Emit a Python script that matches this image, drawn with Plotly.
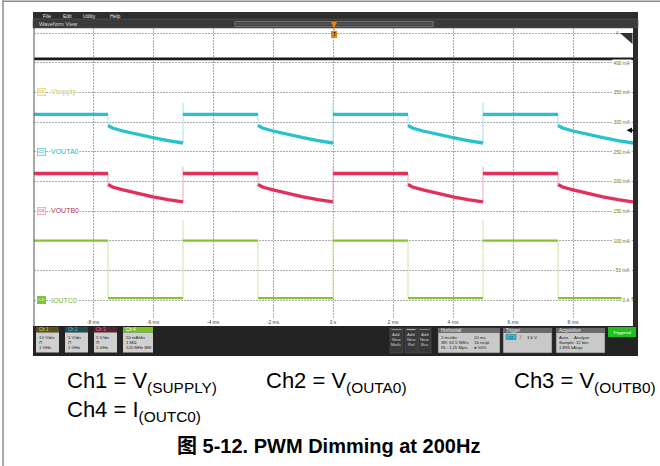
import plotly.graph_objects as go

W, H = 660, 466

# ---------------- data ----------------
time_ticks_ms = [-8, -6, -4, -2, 0, 2, 4, 6, 8]
time_tick_labels = ["-8 ms", "-6 ms", "-4 ms", "-2 ms", "0 s", "2 ms", "4 ms", "6 ms", "8 ms"]
ch4_ticks_ma = [0, 50, 100, 150, 200, 250, 300, 350, 400]
ch4_tick_labels = ["0 A", "50 mA", "100 mA", "150 mA", "200 mA", "250 mA", "300 mA", "350 mA", "400 mA"]

pwm_edges_ms = [-10, -7.5, -5, -2.5, 0, 2.5, 5, 7.5, 10]
pwm_states = [1, 0, 1, 0, 1, 0, 1, 0]          # 1 = PWM on

decay_t_ms = [0, 0.15, 0.5, 1.0, 1.5, 2.0, 2.5]  # time after the falling edge
ch1_level_v = 11.3
ch2_on_v = 6.3
ch2_off_v = [4.41, 3.98, 3.48, 2.89, 2.35, 1.88, 1.46]
ch2_spike_v = 8.25
ch3_on_v = 6.32
ch3_off_v = [4.47, 4.04, 3.55, 2.95, 2.40, 1.93, 1.52]
ch3_spike_v = 7.47
ch4_on_ma = 100
ch4_off_ma = [3, 3, 3, 3, 3, 3, 3]
ch4_spike_ma = 135
trigger_level_v = 3.6

# channel settings (scale per division, ground reference division)
ch1_scale, ch1_ground_div = 10, 7
ch2_scale, ch2_ground_div = 5, 5
ch3_scale, ch3_ground_div = 5, 3
ch4_scale, ch4_ground_div = 50, 0

# ---------------- geometry helpers ----------------
def px(x):
    return x / W

def py(y):
    return 1 - y / H

GRID_TOP, GRID_ZERO = 33.0, 300.0
DIV = (GRID_ZERO - GRID_TOP) / 9
PLOT_TOP, PLOT_BOT = 28.0, 318.0
X_LEFT, X_RIGHT, X0, XPX = 34.0, 633.0, 333.0, 30.0


def yrange(scale, gdiv):
    gpx = GRID_ZERO - gdiv * DIV
    return [(gpx - PLOT_BOT) / DIV * scale, (gpx - PLOT_TOP) / DIV * scale]


def build(on, off, spike):
    xs, ys, ex, ey = [], [], [], []
    for i, st in enumerate(pwm_states):
        t0, t1 = pwm_edges_ms[i], pwm_edges_ms[i + 1]
        if st:
            xs += [t0, t1, None]
            ys += [on, on, None]
        else:
            xs += [t0 + d for d in decay_t_ms] + [None]
            ys += list(off) + [None]
    for i in range(1, len(pwm_states)):
        t = pwm_edges_ms[i]
        if pwm_states[i]:
            ex += [t, t, None]
            ey += [off[-1], spike, None]
        else:
            ex += [t, t, None]
            ey += [on, off[0], None]
    return xs, ys, ex, ey


fig = go.Figure()

CYAN, CYAN_L = "#27c2cb", "#9fe4ea"
RED, RED_L = "#e3305a", "#f5a3b5"
GREEN, GREEN_L = "#86c232", "#c8e6a0"

# Ch1
fig.add_trace(go.Scatter(x=[pwm_edges_ms[0], pwm_edges_ms[-1]], y=[ch1_level_v, ch1_level_v],
                         yaxis="y2", mode="lines", line=dict(color="#1c1c1c", width=2.8),
                         hoverinfo="skip"))
# Ch2
xs, ys, ex, ey = build(ch2_on_v, ch2_off_v, ch2_spike_v)
fig.add_trace(go.Scatter(x=ex, y=ey, yaxis="y3", mode="lines", line=dict(color=CYAN_L, width=1)))
fig.add_trace(go.Scatter(x=xs, y=ys, yaxis="y3", mode="lines", line=dict(color=CYAN, width=3.3)))
# Ch3
xs, ys, ex, ey = build(ch3_on_v, ch3_off_v, ch3_spike_v)
fig.add_trace(go.Scatter(x=ex, y=ey, yaxis="y4", mode="lines", line=dict(color=RED_L, width=1)))
fig.add_trace(go.Scatter(x=xs, y=ys, yaxis="y4", mode="lines", line=dict(color=RED, width=3.3)))
# Ch4
xs, ys, ex, ey = build(ch4_on_ma, ch4_off_ma, ch4_spike_ma)
fig.add_trace(go.Scatter(x=ex, y=ey, yaxis="y", mode="lines", line=dict(color=GREEN_L, width=1)))
fig.add_trace(go.Scatter(x=xs, y=ys, yaxis="y", mode="lines", line=dict(color=GREEN, width=2.2)))

ydom = [py(PLOT_BOT), py(PLOT_TOP)]
GRIDC = "#ababab"
fig.update_layout(
    width=W, height=H, margin=dict(l=0, r=0, t=0, b=0),
    paper_bgcolor="white", plot_bgcolor="white", showlegend=False,
    xaxis=dict(domain=[px(X_LEFT), px(X_RIGHT)],
               range=[(X_LEFT - X0) / XPX, (X_RIGHT - X0) / XPX],
               tickvals=time_ticks_ms, ticktext=time_tick_labels,
               tickfont=dict(size=5, color="#444", family="Liberation Sans"),
               ticks="", showgrid=True, gridcolor=GRIDC, griddash="2px,1px", gridwidth=1,
               zeroline=False, showline=False, fixedrange=True),
    yaxis=dict(domain=ydom, range=yrange(ch4_scale, ch4_ground_div),
               tickvals=[ch4_scale * k for k in range(10)], showticklabels=False,
               showgrid=True, gridcolor=GRIDC, griddash="2px,1px", gridwidth=1,
               zeroline=False, showline=False, fixedrange=True),
    yaxis2=dict(overlaying="y", range=yrange(ch1_scale, ch1_ground_div), visible=False),
    yaxis3=dict(overlaying="y", range=yrange(ch2_scale, ch2_ground_div), visible=False),
    yaxis4=dict(overlaying="y", range=yrange(ch3_scale, ch3_ground_div), visible=False),
)

shapes = []
ann = []


def rect(x0, y0, x1, y1, fill, line=None, lw=0.6):
    shapes.append(dict(type="rect", xref="paper", yref="paper",
                       x0=px(x0), x1=px(x1), y0=py(y1), y1=py(y0),
                       fillcolor=fill, line=dict(color=line or fill, width=lw if line else 0),
                       layer="above"))


def line(x0, y0, x1, y1, color, w=1):
    shapes.append(dict(type="line", xref="paper", yref="paper",
                       x0=px(x0), x1=px(x1), y0=py(y0), y1=py(y1),
                       line=dict(color=color, width=w), layer="above"))


def txt(x, y, s, size=5, color="#222", anchor="left", bg=None, bold=False,
        family="Liberation Sans", border=None):
    a = dict(xref="paper", yref="paper", x=px(x), y=py(y), text=("<b>%s</b>" % s) if bold else s,
             showarrow=False, xanchor=anchor, yanchor="middle",
             font=dict(size=size, color=color, family=family), borderpad=0)
    if bg:
        a["bgcolor"] = bg
    if border:
        a["bordercolor"] = border
        a["borderwidth"] = 0.8
        a["borderpad"] = 0.5
    ann.append(a)


# ---- page border ----
line(3, 0, 3, H, "#8c8c8c", 1.5)
line(3, 1.2, W, 1.2, "#8c8c8c", 1.5)

# ---- scope frame ----
rect(33, 12, 638, 19, "#2d2d2d")
for xx, s in zip([42, 62, 82, 109], ["File", "Edit", "Utility", "Help"]):
    txt(xx, 15.6, s, 5, "#e6e6e6")
rect(33, 19, 638, 28, "#3a3a3a", "#5a5a5a", 0.6)
txt(38, 23.6, "Waveform View", 5.5, "#dcdcdc")
rect(235, 21.6, 433, 26.4, "rgba(0,0,0,0)", "#9a9a9a", 0.7)
line(236, 24, 432, 24, "#7a7a7a", 0.8)
rect(633, 28, 638, 326, "#2b2b2b")
line(34, 28, 34, 326, "#555555", 1)
rect(33, 326, 638, 356, "#232323")

# trigger position marker
shapes.append(dict(type="path", xref="paper", yref="paper",
                   path="M %f %f L %f %f L %f %f L %f %f Z" % (px(331), py(22), px(337), py(22),
                                                                px(334), py(28), px(331), py(22)),
                   fillcolor="#e8870e", line=dict(width=0), layer="above"))
line(334, 27, 334, 31, "#e8870e", 1)
rect(331, 31, 337, 38, "#e8870e")
txt(334, 34.6, "T", 4.5, "#222", "center", bold=True)

# top-right offset icon
shapes.append(dict(type="path", xref="paper", yref="paper",
                   path="M %f %f L %f %f L %f %f Z" % (px(620), py(33), px(632.5), py(33),
                                                        px(632.5), py(44)),
                   fillcolor="#333333", line=dict(width=0), layer="above"))
txt(617, 33.5, "4", 4.5, "#5a7a30", "center")

# right-side Ch4 scale labels
for v, s in zip(ch4_ticks_ma, ch4_tick_labels):
    ann.append(dict(xref="paper", yref="y", x=px(632), y=v, text=s, showarrow=False,
                    xanchor="right", yanchor="middle", bgcolor="white", borderpad=0.5,
                    font=dict(size=4.8, color="#5a7a30", family="Liberation Sans")))

# trigger level marker on the Ch2 scale
half = 2.8 / DIV * ch2_scale
shapes.append(dict(type="path", xref="paper", yref="y3",
                   path="M %f %f L %f %f L %f %f Z" % (px(626.5), trigger_level_v,
                                                        px(632), trigger_level_v + half,
                                                        px(632), trigger_level_v - half),
                   fillcolor="#111111", line=dict(width=0), layer="above"))
shapes.append(dict(type="line", xref="paper", yref="y3", x0=px(631), x1=px(635),
                   y0=trigger_level_v, y1=trigger_level_v,
                   line=dict(color="#111111", width=1.5), layer="above"))

# channel ground badges
badges = [
    ("C1", "Vsupply", ch1_ground_div, "#e4dc48", "#fffbe0", "#8a8420", "#cfc63a"),
    ("C2", "VOUTA0", ch2_ground_div, "#5fd0d8", "#eafafb", "#1f8c94", "#25b5bf"),
    ("C3", "VOUTB0", ch3_ground_div, "#f0a0b0", "#fff0f3", "#a03048", "#b8304f"),
    ("C4", "IOUTC0", ch4_ground_div, "#7cc22a", "#7cc22a", "#ffffff", "#76b52a"),
]
for b, name, gd, bc, bgc, tc, nc in badges:
    yy = GRID_ZERO - gd * DIV
    txt(41, yy, b, 4.3, tc, "center", bg=bgc, border=bc)
    txt(49.5, yy, name, 7, nc, "left", bg="white")

# ---- bottom channel boxes ----
chboxes = [
    (36, 59, "Ch 1", "#57521e", "#e2da4c", ["10 V/div", "⊓", "1 GHz"]),
    (65, 88, "Ch 2", "#1e4d52", "#5ccdd6", ["5 V/div", "⊓", "1 GHz"]),
    (94, 117, "Ch 3", "#5c2230", "#ff6d88", ["5 V/div", "⊓", "1 GHz"]),
    (123, 153, "Ch 4", "#7cc21f", "#ffffff", ["50 mA/div", "1 MΩ", "120 MHz BW"]),
]
for x0, x1, head, hc, htc, lines in chboxes:
    rect(x0, 327, x1, 332.5, hc)
    rect(x0, 332.5, x1, 352.5, "#d0d0d0")
    txt(x0 + 1.5, 329.8, head, 4.5, htc)
    for k, s in enumerate(lines):
        txt(x0 + 1.5, 337 + 5.2 * k, s, 4.3, "#222",
            family="DejaVu Sans" if s == "⊓" else "Liberation Sans")

# Add New boxes
for x0, x1, word, sc in [(390, 403, "Math", "#d08a30"), (405, 417, "Ref", "#c8b89c"),
                         (418, 431, "Bus", "#9a6ad0")]:
    rect(x0, 328, x1, 353, "#383838", "#555555", 0.6)
    line(x0 + 1.5, 329.6, x1 - 1.5, 329.6, sc, 1)
    for k, s in enumerate(["Add", "New", word]):
        txt((x0 + x1) / 2, 334.5 + 5 * k, s, 4.3, "#cfcfcf", "center")

# Horizontal / Trigger / Acquisition
info = [
    (438, 500, "Horizontal", [("2 ms/div", "20 ms"), ("SR: 62.5 MS/s", "16 ns/pt"),
                              ("RL: 1.25 Mpts", "● 50%")], 473),
    (503, 552, "Trigger", [], 0),
    (556, 605, "Acquisition", [("Auto,", "Analyze"), ("Sample: 12 bits", ""),
                               ("1.893 kAcqs", "")], 573),
]
for x0, x1, head, rows, col2 in info:
    rect(x0, 328, x1, 353, "#c9c9c9", "#444444", 0.6)
    rect(x0, 328, x1, 333, "#6a6a6a")
    txt(x0 + 2, 330.6, head, 4.5, "#ececec")
    for k, (a, b) in enumerate(rows):
        txt(x0 + 2, 337 + 5.4 * k, a, 4.3, "#222")
        if b:
            txt(col2, 337 + 5.4 * k, b, 4.3, "#222")
rect(506, 334.5, 516, 339.5, "#36bfd0", "#1a6c78", 0.5)
txt(511, 337, "C2", 4, "#10363c", "center")
txt(521, 337, "/", 5, "#555", "center")
txt(526, 337, "3.6 V", 4.3, "#222")

rect(608, 327, 636, 337, "#1fc11f")
txt(622, 332, "Triggered", 4.3, "#ffffff", "center")

# ---- captions ----
CAP = "Liberation Sans, Arial, Noto Sans CJK SC"
txt(66, 382, "Ch1 = V<sub>(SUPPLY)</sub>", 22, "#000", "left", family=CAP)
txt(265, 382, "Ch2 = V<sub>(OUTA0)</sub>", 22, "#000", "left", family=CAP)
txt(513, 382, "Ch3 = V<sub>(OUTB0)</sub>", 22, "#000", "left", family=CAP)
txt(66, 411, "Ch4 = I<sub>(OUTC0)</sub>", 22, "#000", "left", family=CAP)
txt(328, 446, "图 5-12. PWM Dimming at 200Hz", 20, "#000", "center", bold=True, family=CAP)

fig.update_layout(shapes=shapes, annotations=ann)
fig.write_html("out.html", config={"displayModeBar": False},
               post_script="document.body.style.margin='0px';document.body.style.padding='0px';")
